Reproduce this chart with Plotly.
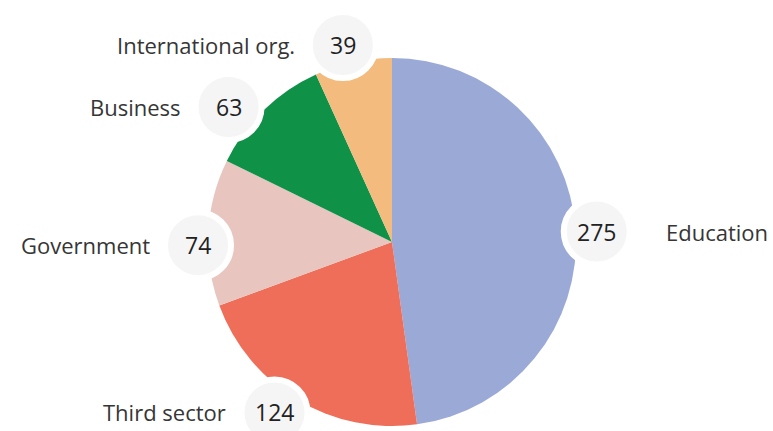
import math
import plotly.graph_objects as go

categories = ["Education", "Third sector", "Government", "Business", "International org."]
values = [275, 124, 74, 63, 39]
colors = ["#9BA9D6", "#EE6E5A", "#E8C6BF", "#0F9148", "#F3BC7E"]
# label-bubble placement tweaks (style only): angle nudge in degrees, distance from centre in px
nudges = [1, 3.6, -3.9, -6.3, -1.8]
radii = [205, 207, 194, 212, 203]

W, H = 773, 431
CX, CY, R = 392, 242, 184
BUB = 33          # bubble radius px

fig = go.Figure(go.Pie(
    labels=categories, values=values, sort=False, direction="clockwise", rotation=0,
    marker=dict(colors=colors, line=dict(width=0)),
    textinfo="none", hoverinfo="label+value", showlegend=False,
    domain=dict(x=[(CX - R) / W, (CX + R) / W], y=[(H - CY - R) / H, (H - CY + R) / H]),
))

total = sum(values)
cum = 0
shapes, annotations = [], []
font = "Open Sans, Noto Sans, sans-serif"
for cat, v, nd, lr in zip(categories, values, nudges, radii):
    mid = (cum + v / 2) / total * 360 + nd
    cum += v
    t = math.radians(mid)
    px = CX + lr * math.sin(t)
    py = CY - lr * math.cos(t)
    xa, ya = px / W, 1 - py / H
    shapes.append(dict(type="circle", xref="paper", yref="paper", xsizemode="pixel", ysizemode="pixel",
                       xanchor=xa, yanchor=ya, x0=-BUB, x1=BUB, y0=-BUB, y1=BUB,
                       fillcolor="#F5F5F6", line=dict(color="white", width=6), layer="above"))
    annotations.append(dict(x=xa, y=ya, xref="paper", yref="paper", text=str(v), showarrow=False,
                            font=dict(size=23, color="#222222", family=font), xanchor="center", yanchor="middle"))
    right = math.sin(t) > 0
    annotations.append(dict(x=xa, y=ya, xref="paper", yref="paper", text=cat, showarrow=False,
                            xshift=67 if right else -46, yshift=0,
                            xanchor="left" if right else "right", yanchor="middle",
                            font=dict(size=22, color="#363636", family=font)))

fig.update_layout(width=W, height=H, margin=dict(l=0, r=0, t=0, b=0),
                  paper_bgcolor="white", plot_bgcolor="white",
                  shapes=shapes, annotations=annotations)
fig.write_html("out.html")
